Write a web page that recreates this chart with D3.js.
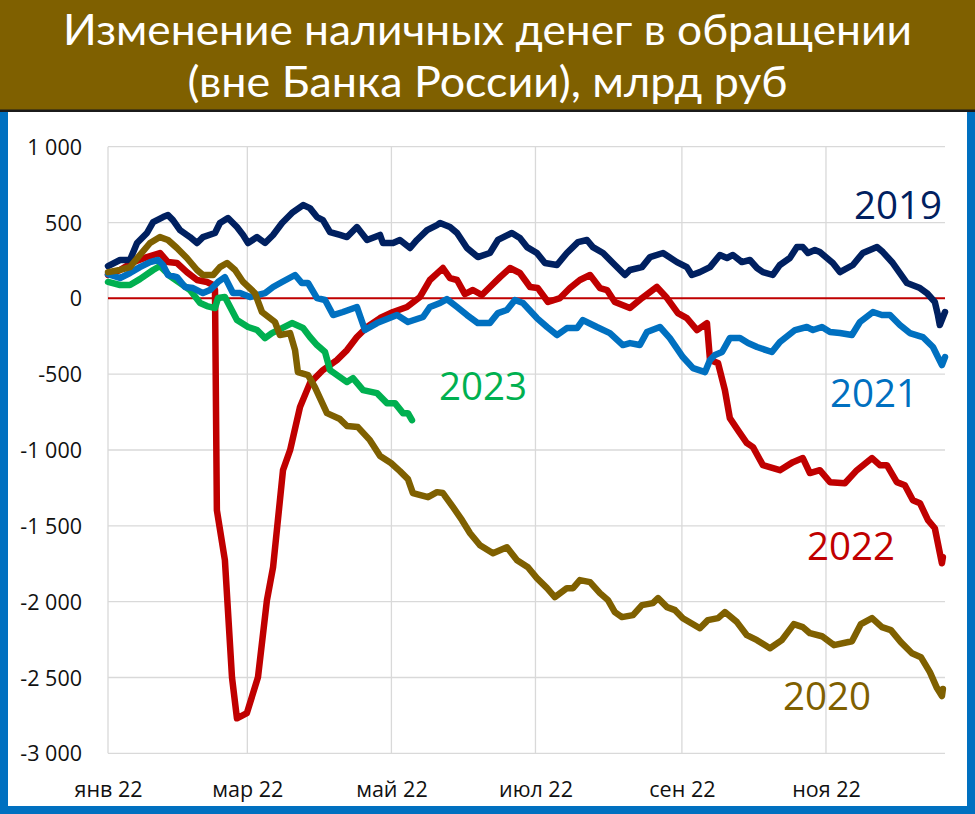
<!DOCTYPE html>
<html><head><meta charset="utf-8">
<script src="https://cdn.jsdelivr.net/npm/d3@7"></script>
<style>html,body{margin:0;padding:0;background:#fff;} svg{display:block;}</style>
</head><body><svg id="c" width="975" height="814"></svg>
<script>
// ---------- DATA ----------
const titleLines = ["Изменение наличных денег в обращении", "(вне Банка России), млрд руб"];
const xTickDates = ["2022-01-01","2022-03-01","2022-05-01","2022-07-01","2022-09-01","2022-11-01"];
const xTickLabels = ["янв 22","мар 22","май 22","июл 22","сен 22","ноя 22"];
const yTicks = [1000,500,0,-500,-1000,-1500,-2000,-2500,-3000];
const yTickLabels = ["1 000","500","0","-500","-1 000","-1 500","-2 000","-2 500","-3 000"];
const seriesNames = ["2019","2020","2021","2022","2023"];

// days since 1 Jan, values in bn rub
const days2019 = [0,5.1,9.3,12.3,16.5,19.1,23.3,25.4,27.5,30.5,34.7,37.7,40.2,45.3,47.4,50.8,54.6,57.2,59.3,63.1,66.5,69.9,73.7,77.9,82.6,85.5,88.5,91.0,94.0,98.2,101.2,105.4,109.7,115.2,116.4,120.7,123.6,127.9,130.8,135.1,139.3,140.6,144.8,147.8,152.0,156.6,161.7,165.1,171.0,174.4,177.4,181.6,185.0,190.1,194.3,199.0,202.8,205.3,209.6,213.8,218.9,221.0,226.1,229.5,235.0,240.9,245.1,247.2,250.6,254.9,259.1,262.1,264.6,268.4,271.8,274.8,277.3,281.5,284.5,288.7,291.7,294.2,296.4,299.3,301.4,304.4,306.9,309.9,315.4,319.6,325.6,328.1,332.3,335.3,338.3,343.8,346.7,350.1,351.4,352.2,354.4];
const vals2019 = [213,253,253,365,431,503,536,549,516,450,404,365,404,431,497,530,470,418,365,404,365,418,497,563,615,595,536,516,437,418,404,470,385,418,365,365,385,332,385,450,483,497,470,431,332,272,299,385,431,398,338,299,233,220,299,371,385,338,299,233,154,187,206,272,299,239,206,154,173,206,286,266,286,239,253,200,173,154,220,266,338,338,299,319,305,266,233,173,220,299,338,305,233,167,101,68,35,-24,-110,-176,-90];

const days2020 = [0,5.1,9.3,13.5,17.8,22.0,25.4,29.2,33.4,37.7,40.2,44.5,47.4,50.4,53.8,57.2,62.2,65.2,70.7,72.8,77.1,79.2,80.4,84.7,87.6,92.7,98.2,101.2,105.8,110.9,115.2,119.8,123.6,127.0,129.1,135.5,139.3,141.8,146.1,149.9,153.3,157.5,163.0,168.9,173.2,177.8,181.6,185.9,189.2,194.3,196.9,199.8,204.1,208.3,211.7,214.6,217.6,222.3,226.1,230.7,232.9,236.7,240.1,243.4,250.6,254.0,258.3,261.2,266.3,270.5,274.8,280.3,285.3,290.4,294.2,297.2,302.3,307.4,315.0,318.8,323.5,327.7,331.5,335.7,340.4,344.2,348.0,351.0,353.1,353.5];
const vals2020 = [173,187,206,286,365,404,385,332,266,187,154,154,206,233,187,108,35,-90,-156,-242,-229,-341,-486,-506,-585,-757,-796,-842,-849,-935,-1040,-1086,-1139,-1192,-1284,-1311,-1278,-1284,-1377,-1463,-1549,-1628,-1681,-1641,-1727,-1773,-1845,-1911,-1970,-1911,-1911,-1858,-1871,-1944,-1990,-2069,-2102,-2089,-2023,-2010,-1977,-2036,-2056,-2109,-2175,-2122,-2109,-2069,-2135,-2221,-2254,-2307,-2254,-2148,-2168,-2208,-2228,-2287,-2261,-2148,-2109,-2168,-2188,-2267,-2340,-2366,-2465,-2570,-2622,-2576];

const days2021 = [0,5.1,9.3,13.5,17.8,21.2,23.3,25.4,29.2,32.6,36.0,40.2,43.2,46.6,49.5,52.9,55.9,60.1,66.5,69.9,73.7,79.2,82.1,84.7,88.5,91.9,95.3,99.5,105.4,108.8,113.9,122.4,127.0,133.4,136.3,140.6,143.5,147.8,152.0,156.6,161.7,165.1,168.9,172.3,175.7,181.6,185.9,190.1,194.3,198.6,201.1,207.0,212.5,218.0,221.0,225.2,228.2,233.7,237.9,243.4,247.7,252.8,254.9,257.0,260.0,263.3,267.6,271.0,274.8,281.1,284.5,290.9,295.9,298.5,302.3,305.7,309.9,315.0,318.4,323.9,327.7,331.1,335.3,339.5,345.0,349.3,353.1,354.4];
const vals2021 = [160,134,167,206,239,253,220,154,140,75,68,35,55,108,140,35,35,9,35,75,108,154,101,101,2,-11,-110,-90,-57,-209,-163,-110,-156,-123,-57,-31,-5,-57,-110,-163,-163,-97,-77,-11,-31,-130,-189,-242,-196,-196,-143,-189,-229,-308,-295,-308,-222,-189,-262,-387,-460,-486,-407,-374,-354,-262,-262,-295,-321,-354,-288,-209,-189,-209,-189,-222,-229,-242,-156,-90,-110,-110,-176,-229,-255,-321,-440,-387];

const days2022 = [0,5.1,10.6,16.5,22.0,25.4,29.2,33.4,37.7,41.9,44.5,45.3,46.1,49.5,52.5,54.6,58.8,63.5,67.3,69.9,74.1,77.1,81.3,85.5,91.0,96.9,101.2,105.4,109.7,115.2,120.7,126.6,132.1,136.3,141.8,144.8,147.8,151.1,154.5,158.3,162.6,166.0,170.2,174.4,178.7,182.0,186.3,191.4,195.6,199.8,204.1,208.3,211.3,214.6,221.0,226.1,232.4,236.7,241.3,245.1,249.4,253.6,254.9,258.3,261.2,263.3,266.7,270.5,273.1,277.3,284.5,290.0,294.2,297.2,301.4,305.7,312.0,317.1,323.5,326.8,329.8,334.0,337.4,340.8,343.8,347.2,350.1,353.1,353.5];
const vals2022 = [154,187,239,272,299,239,233,173,121,108,88,55,-1397,-1727,-2499,-2769,-2735,-2499,-1990,-1772,-1133,-1001,-717,-559,-473,-407,-341,-255,-189,-130,-90,-57,9,121,200,134,121,28,55,22,88,140,200,167,75,68,-24,2,68,121,154,68,55,-24,-64,2,75,2,-97,-130,-209,-163,-407,-427,-605,-790,-869,-954,-981,-1100,-1133,-1080,-1053,-1152,-1133,-1212,-1219,-1133,-1053,-1100,-1100,-1212,-1232,-1331,-1351,-1463,-1516,-1747,-1707];

const days2023 = [0,5.1,9.3,13.5,19.1,22.0,26.2,30.5,34.7,39.0,41.9,45.3,46.6,49.5,54.6,59.3,63.1,66.5,69.4,73.7,77.9,82.6,85.5,88.5,91.9,94.0,98.2,101.2,103.7,108.0,113.9,118.1,121.5,124.9,127.0,128.7];
const vals2023 = [108,88,88,127,187,213,147,101,55,-31,-51,-64,2,9,-143,-189,-209,-262,-229,-196,-163,-196,-255,-308,-354,-473,-519,-552,-526,-605,-625,-691,-691,-757,-757,-803];

// ---------- LAYOUT / STYLE ----------
const W = 975, H = 814;
const plot = {left:108, right:945, top:146.7, bottom:753.3};
const colors = {"2019":"#002060","2020":"#7F6000","2021":"#0070C0","2022":"#C00000","2023":"#00B050"};
const FONT = "'Open Sans', 'Noto Sans', sans-serif";
const TITLE_FONT = "Lato, 'Open Sans', sans-serif";
const dayMs = 864e5;
const base = Date.UTC(2022,0,1);
const toDate = d => new Date(base + d*dayMs);

const seriesData = {
  "2019": d3.zip(days2019, vals2019),
  "2020": d3.zip(days2020, vals2020),
  "2021": d3.zip(days2021, vals2021),
  "2022": d3.zip(days2022, vals2022),
  "2023": d3.zip(days2023, vals2023)
};

const x = d3.scaleUtc().domain([toDate(0), toDate(354.4)]).range([plot.left, plot.right]);
const y = d3.scaleLinear().domain([-3000, 1000]).range([plot.bottom, plot.top]);

const svg = d3.select("#c");

// frame
svg.append("rect").attr("x",0).attr("y",0).attr("width",W).attr("height",H).attr("fill","#0070C0");
svg.append("rect").attr("x",8).attr("y",110).attr("width",W-16).attr("height",H-110-8).attr("fill","#fff");
svg.append("rect").attr("x",0).attr("y",0).attr("width",W).attr("height",110).attr("fill","#7F6000");
svg.append("rect").attr("x",0).attr("y",109.5).attr("width",W).attr("height",2.5).attr("fill","#1b1b1b");

// title
const titleY = [45, 97];
const titleLen = [849, 600];
svg.append("g").selectAll("text").data(titleLines).join("text")
  .attr("x", W/2).attr("y", (d,i)=>titleY[i])
  .attr("text-anchor","middle")
  .attr("textLength",(d,i)=>titleLen[i]).attr("lengthAdjust","spacingAndGlyphs")
  .attr("fill","#fff").attr("font-family",TITLE_FONT).attr("font-size",43)
  .text(d=>d);

// gridlines
svg.append("g").selectAll("line").data(yTicks).join("line")
  .attr("x1",plot.left).attr("x2",plot.right)
  .attr("y1",d=>y(d)).attr("y2",d=>y(d))
  .attr("stroke","#d9d9d9").attr("stroke-width",1.3);
const tickDates = xTickDates.map(s=>new Date(s+"T00:00:00Z"));
svg.append("g").selectAll("line").data(tickDates).join("line")
  .attr("x1",d=>x(d)).attr("x2",d=>x(d))
  .attr("y1",plot.top).attr("y2",plot.bottom)
  .attr("stroke","#d9d9d9").attr("stroke-width",1.3);

// axes (labels only)
const yAxis = d3.axisLeft(y).tickValues(yTicks).tickSize(0).tickPadding(0)
  .tickFormat((d,i)=>yTickLabels[i]);
const gy = svg.append("g").attr("transform",`translate(${plot.left-26},0)`).call(yAxis);
gy.select(".domain").remove();
gy.selectAll("text").attr("font-family",FONT).attr("font-size",21.5).attr("fill","#111").attr("dy","0.35em");

const xAxis = d3.axisBottom(x).tickValues(tickDates).tickSize(0).tickPadding(0)
  .tickFormat((d,i)=>xTickLabels[i]);
const gx = svg.append("g").attr("transform",`translate(0,${plot.bottom+44})`).call(xAxis);
gx.select(".domain").remove();
gx.selectAll("text").attr("font-family",FONT).attr("font-size",21.5).attr("fill","#111").attr("dy",0);

// zero line
svg.append("line").attr("x1",plot.left).attr("x2",plot.right)
  .attr("y1",y(0)).attr("y2",y(0)).attr("stroke","#C00000").attr("stroke-width",2);

// series lines
const line = d3.line().x(d=>x(toDate(d[0]))).y(d=>y(d[1]));
const drawOrder = ["2022","2023","2019","2021","2020"];
svg.append("g").selectAll("path").data(drawOrder).join("path")
  .attr("d", k=>line(seriesData[k]))
  .attr("fill","none").attr("stroke",k=>colors[k]).attr("stroke-width",6.5)
  .attr("stroke-linejoin","round").attr("stroke-linecap","round");

// series labels (anchor = end of text, baseline)
const labelPos = {"2019":[942,219],"2020":[871,710],"2021":[918,407],"2022":[895,560],"2023":[527,400]};
svg.append("g").selectAll("text").data(seriesNames).join("text")
  .attr("x",k=>labelPos[k][0]).attr("y",k=>labelPos[k][1])
  .attr("text-anchor","end").attr("fill",k=>colors[k])
  .attr("font-family",FONT).attr("font-size",38.5)
  .text(k=>k);
</script></body></html>
